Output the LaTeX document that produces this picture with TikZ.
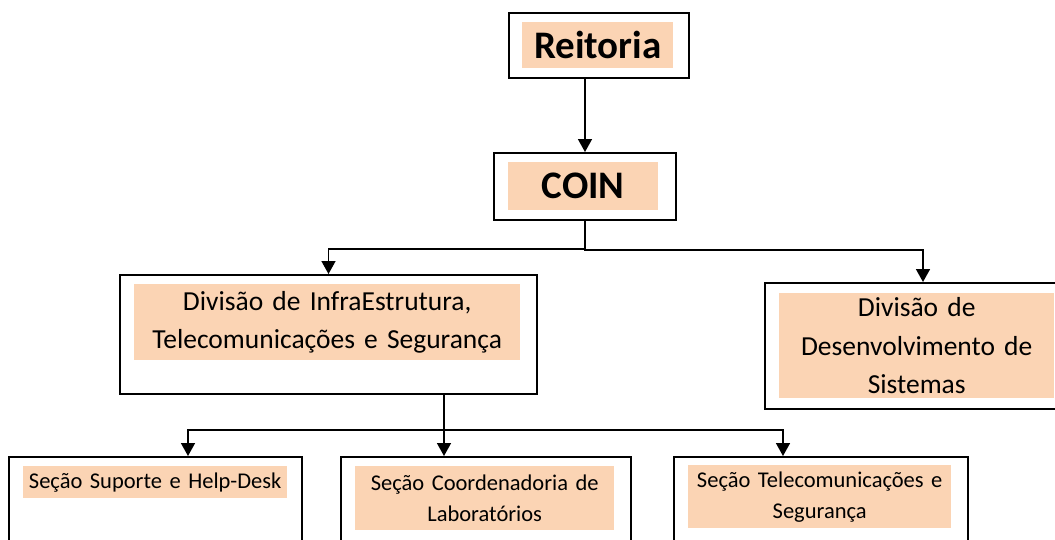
\documentclass[tikz,border=0pt]{standalone}
\usepackage{fontspec}
\setmainfont{Carlito}
\usepackage{tikz}
\usetikzlibrary{arrows.meta, calc, positioning}
\definecolor{peach}{HTML}{FBD4B4}
\tikzstyle{frame} = [rectangle, draw=black, line width=2pt, inner sep=0pt]
\tikzstyle{fillbox} = [rectangle, fill=peach, inner sep=0pt, align=center]
\tikzstyle{link} = [line width=1.6pt]
\tikzstyle{arrow} = [line width=1.6pt, -{Triangle[width=14pt,length=13pt]}]
\newcommand{\TopFont}{\fontsize{39}{47}\selectfont\bfseries}
\newcommand{\DivFont}{\fontsize{27.5}{38.5}\selectfont}
\newcommand{\SecFont}{\fontsize{22.5}{31}\selectfont}

\begin{document}
\begin{tikzpicture}[x=1pt, y=-1pt]
	\useasboundingbox (0,0) rectangle (1055,539);
	\clip (0,0) rectangle (1055,539);
	\node (ReitoriaBox) [frame, minimum width=180pt, minimum height=65pt] at (599,45.5) {};
	\node (Reitoria) [fillbox, below right = 10pt and 14pt of ReitoriaBox.north west, text width=151pt, minimum height=46pt, font=\TopFont] {Reitoria\hspace*{10pt}};
	\node (COINBox) [frame, minimum width=182pt, minimum height=67pt] at (585,186.5) {};
	\node (COIN) [fillbox, below right = 10pt and 15pt of COINBox.north west, text width=150pt, minimum height=48pt, font=\TopFont] {COIN};
	\node (InfraBox) [frame, minimum width=417pt, minimum height=119pt] at (328.5,334.5) {};
	\node (Infra) [fillbox, below right = 10pt and 15pt of InfraBox.north west, text width=386pt, minimum height=76pt, font=\DivFont] {Divisão de InfraEstrutura,\\Telecomunicações e Segurança};
	\node (DesenvBox) [frame, minimum width=305pt, minimum height=126pt] at (917.5,346) {};
	\node (Desenv) [fillbox, below right = 11pt and 15pt of DesenvBox.north west, text width=275pt, minimum height=105pt, font=\DivFont] {Divisão de\\Desenvolvimento de\\Sistemas};
	\node (SuporteBox) [frame, minimum width=293pt, minimum height=143pt] at (155.5,528.5) {};
	\node (Suporte) [fillbox, below right = 10pt and 15pt of SuporteBox.north west, text width=264pt, minimum height=32pt, font=\SecFont] {Seção Suporte e Help-Desk};
	\node (CoordBox) [frame, minimum width=290pt, minimum height=143pt] at (486,528.5) {};
	\node (Coord) [fillbox, below right = 10pt and 15pt of CoordBox.north west, text width=259pt, minimum height=64pt, font=\SecFont] {Seção Coordenadoria de\\Laboratórios};
	\node (TelecomBox) [frame, minimum width=294pt, minimum height=143pt] at (821,528.5) {};
	\node (Telecom) [fillbox, below right = 9pt and 15pt of TelecomBox.north west, text width=263pt, minimum height=63pt, font=\SecFont] {Seção Telecomunicações e\\Segurança};
	\draw [arrow] (COINBox.north |- ReitoriaBox.south) -- (COINBox.north);
	\draw [arrow] (COINBox.south) -- ++(0,28) -| (InfraBox.north);
	\draw [arrow] (COINBox.south) -- ++(0,29) -| ([xshift=5.5pt]DesenvBox.north);
	\draw [link] ([xshift=115.5pt]InfraBox.south) -- ++(0,35) coordinate (Split);
	\draw [arrow] (Split) -| ([xshift=32.5pt]SuporteBox.north);
	\draw [arrow] (Split) -- (Split |- CoordBox.north);
	\draw [arrow] (Split) -| ([xshift=-38pt]TelecomBox.north);
\end{tikzpicture}
\end{document}
